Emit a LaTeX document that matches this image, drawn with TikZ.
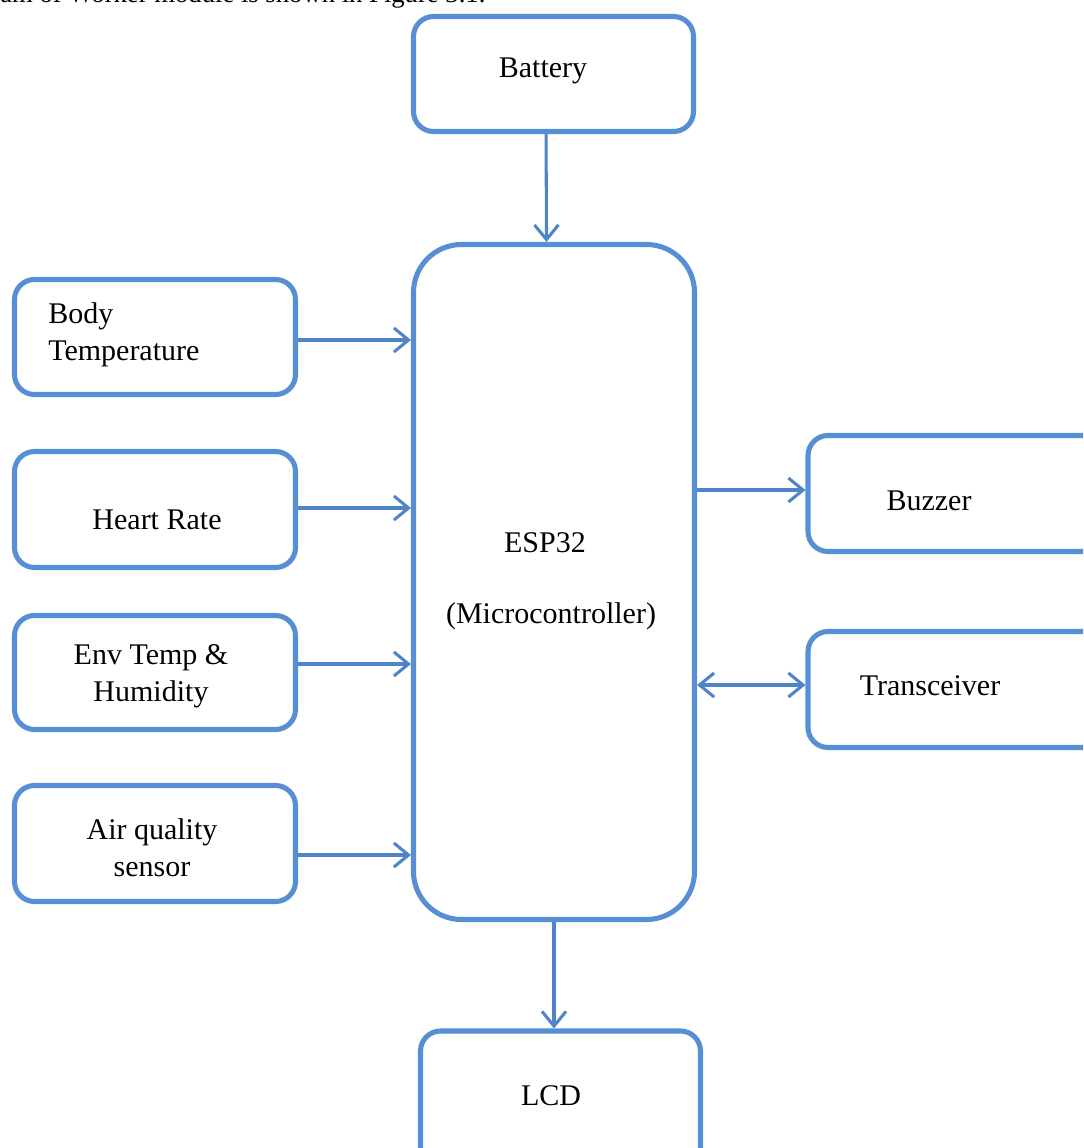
\documentclass[tikz,border=0pt]{standalone}
\usepackage{fontspec}
\setmainfont{Liberation Serif}
\usetikzlibrary{arrows.meta}
\definecolor{bl}{RGB}{88,143,212}
\definecolor{arc}{RGB}{80,132,200}
\begin{document}
\begin{tikzpicture}[x=0.75pt,y=-0.75pt,
  bx/.style n args={2}{draw=bl, line width=3.8pt, rounded corners=15pt,
    minimum width=#1*0.75pt, minimum height=#2*0.75pt, inner sep=0pt},
  txt/.style={font=\fontsize{22.5}{27.75}\selectfont, align=center, inner sep=0pt},
  arr/.style={draw=arc, line width=2.3pt, -{Straight Barb[length=11pt,width=18pt]}},
  darr/.style={draw=arc, line width=2.3pt, {Straight Barb[length=11pt,width=18pt]}-{Straight Barb[length=11pt,width=18pt]}}]
\useasboundingbox (0,0) rectangle (1083,1148);
\clip (0,0) rectangle (1083,1148);
\fill[white] (0,0) rectangle (1083,1148);

% caption line cut at top
\node[font=\fontsize{20}{24}\selectfont, inner sep=0pt, anchor=base west] (cap) at (0,3) {am of Worker module is shown in Figure 3.1.};

% boxes
\node[bx={280}{115}] (bat) at (553.5,74) {};
\node[bx={281}{675}, rounded corners=36pt] (esp) at (554,582) {};
\node[bx={281}{115}] (body) at (155,337) {};
\node[bx={281}{116}] (heart) at (155,509.5) {};
\node[bx={281}{114}] (env) at (155,672.5) {};
\node[bx={281}{116}] (air) at (155,843.5) {};
\node[bx={300}{116}] (buz) at (958,493.5) {};
\node[bx={300}{116}] (trx) at (958,689.5) {};
\node[bx={280}{150}] (lcd) at (560.5,1106) {};

% texts
\node[txt] (batT) at (543,71) {Battery};
\node[txt] (espT1) at (545,543) {ESP32};
\node[txt] (espT2) at (551,616) {(Microcontroller)};
\node[txt, align=left, anchor=west] (bodyT) at (48,335) {Body\\Temperature};
\node[txt] (heartT) at (157,520) {Heart Rate};
\node[txt] (envT) at (151,676) {Env Temp \&\\Humidity};
\node[txt] (airT) at (152,848) {Air quality\\sensor};
\node[txt] (buzT) at (929,501) {Buzzer};
\node[txt] (trxT) at (930,686) {Transceiver};
\node[txt] (lcdT) at (551,1096) {LCD};

% connectors
\draw[arr] ([xshift=-5.6pt]bat.south) -- ([xshift=-5.6pt]esp.north);
\draw[arr] (body.east |- 0,340) -- (esp.west |- 0,340);
\draw[arr] (heart.east |- 0,508) -- (esp.west |- 0,508);
\draw[arr] (env.east |- 0,664) -- (esp.west |- 0,664);
\draw[arr] (air.east |- 0,855) -- (esp.west |- 0,855);
\draw[arr] (esp.east |- 0,490) -- (buz.west |- 0,490);
\draw[darr] (esp.east |- 0,685) -- (trx.west |- 0,685);
\draw[arr] (esp.south) -- (esp.south |- lcd.north);
\end{tikzpicture}
\end{document}
